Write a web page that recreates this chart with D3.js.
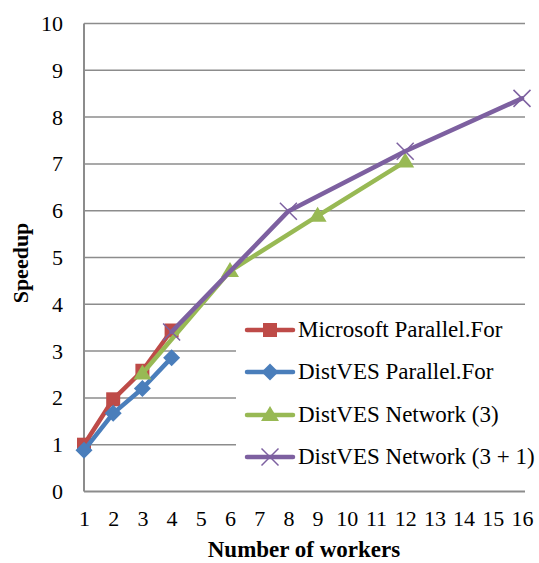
<!DOCTYPE html>
<html lang="en">
<head>
<meta charset="utf-8">
<title>Speedup chart</title>
<script src="https://cdn.jsdelivr.net/npm/d3@7"></script>
<style>
  body { margin: 0; background: #fff; }
  text { font-family: "Liberation Serif", "Times New Roman", serif; }
</style>
</head>
<body>
<script>
// Data
var xTicks = d3.range(1, 17);
var yTicks = d3.range(0, 11);

var msWorkers = [1, 2, 3, 4];
var msSpeedup = [1.0, 1.97, 2.58, 3.44];

var dvWorkers = [1, 2, 3, 4];
var dvSpeedup = [0.88, 1.67, 2.2, 2.86];

var net3Workers = [3, 6, 9, 12];
var net3Speedup = [2.52, 4.71, 5.89, 7.05];

var net31Workers = [4, 8, 12, 16];
var net31Speedup = [3.41, 5.99, 7.27, 8.4];

var seriesNames = ["Microsoft Parallel.For", "DistVES Parallel.For", "DistVES Network (3)", "DistVES Network (3 + 1)"];
var seriesColors = ["#BE4B48", "#4A7EBB", "#98B954", "#7D60A0"];
var seriesMarkers = ["square", "diamond", "triangle", "cross"];

var series = [
  { workers: msWorkers, speedup: msSpeedup },
  { workers: dvWorkers, speedup: dvSpeedup },
  { workers: net3Workers, speedup: net3Speedup },
  { workers: net31Workers, speedup: net31Speedup }
].map(function(s, i) {
  return {
    name: seriesNames[i],
    color: seriesColors[i],
    marker: seriesMarkers[i],
    points: s.workers.map(function(w, j) { return { x: w, y: s.speedup[j] }; })
  };
});

var w = 539, h = 563;
var plotLeft = 84, plotRight = 522, plotTop = 23.5, plotBottom = 491.5;

var xScale = d3.scaleLinear().domain([1, 16]).range([plotLeft, plotRight]);
var yScale = d3.scaleLinear().domain([0, 10]).range([plotBottom, plotTop]);

var svg = d3.select("body").append("svg")
  .attr("width", w)
  .attr("height", h);

// Gridlines
svg.append("g")
  .selectAll("line")
  .data(yTicks.slice(1))
  .enter()
  .append("line")
  .attr("x1", plotLeft)
  .attr("x2", plotRight + 3)
  .attr("y1", function(d) { return yScale(d); })
  .attr("y2", function(d) { return yScale(d); })
  .attr("stroke", "#8c8c8c")
  .attr("stroke-width", 1.5);

// Axes
var yAxis = d3.axisLeft(yScale).tickValues(yTicks).tickSize(0).tickPadding(21);
var xAxis = d3.axisBottom(xScale).tickValues(xTicks).tickSize(0).tickPadding(19);

var gy = svg.append("g").attr("transform", "translate(" + plotLeft + ",0)").call(yAxis);
var gx = svg.append("g").attr("transform", "translate(0," + plotBottom + ")").call(xAxis);

[gx, gy].forEach(function(g) {
  g.select(".domain").attr("stroke", "#8c8c8c").attr("stroke-width", 2);
  g.selectAll("text")
    .attr("font-family", "Liberation Serif, serif")
    .attr("font-size", "22px")
    .attr("fill", "#000");
});
gy.select(".domain").attr("d", "M0," + plotBottom + "V" + plotTop);
gx.select(".domain").attr("d", "M" + plotLeft + ",0H" + (plotRight + 3));

// Axis titles
svg.append("text")
  .attr("x", 304)
  .attr("y", 557)
  .attr("text-anchor", "middle")
  .attr("font-size", "23px")
  .attr("font-weight", "bold")
  .text("Number of workers");

svg.append("text")
  .attr("transform", "translate(28,263) rotate(-90)")
  .attr("text-anchor", "middle")
  .attr("font-size", "22px")
  .attr("font-weight", "bold")
  .text("Speedup");

// Marker drawing
function drawMarker(g, type, color, cx, cy) {
  if (type === "square") {
    g.append("rect")
      .attr("x", cx - 7).attr("y", cy - 7)
      .attr("width", 14).attr("height", 14)
      .attr("fill", color);
  } else if (type === "diamond") {
    g.append("path")
      .attr("d", "M" + cx + "," + (cy - 8.5) + "L" + (cx + 8.5) + "," + cy + "L" + cx + "," + (cy + 8.5) + "L" + (cx - 8.5) + "," + cy + "Z")
      .attr("fill", color);
  } else if (type === "triangle") {
    g.append("path")
      .attr("d", "M" + cx + "," + (cy - 9) + "L" + (cx + 9) + "," + (cy + 6) + "L" + (cx - 9) + "," + (cy + 6) + "Z")
      .attr("fill", color);
  } else {
    g.append("path")
      .attr("d", "M" + (cx - 8.5) + "," + (cy - 8.5) + "L" + (cx + 8.5) + "," + (cy + 8.5) + "M" + (cx + 8.5) + "," + (cy - 8.5) + "L" + (cx - 8.5) + "," + (cy + 8.5))
      .attr("stroke", color)
      .attr("stroke-width", 1.5)
      .attr("fill", "none");
  }
}

var line = d3.line()
  .x(function(d) { return xScale(d.x); })
  .y(function(d) { return yScale(d.y); });

// Lines and markers
series.forEach(function(s) {
  var g = svg.append("g");
  g.append("path")
    .attr("d", line(s.points))
    .attr("fill", "none")
    .attr("stroke", s.color)
    .attr("stroke-width", 4.5)
    .attr("stroke-linejoin", "round")
    .attr("stroke-linecap", "round");
  s.points.forEach(function(p) {
    drawMarker(g, s.marker, s.color, xScale(p.x), yScale(p.y));
  });
});

// Legend
var legend = svg.append("g");
legend.append("rect")
  .attr("x", 236)
  .attr("y", 307)
  .attr("width", 303)
  .attr("height", 182)
  .attr("fill", "#fff");

var rowY = [330, 372, 415, 457];
series.forEach(function(s, i) {
  var y = rowY[i];
  legend.append("line")
    .attr("x1", 247).attr("x2", 293)
    .attr("y1", y).attr("y2", y)
    .attr("stroke", s.color)
    .attr("stroke-width", 4.5)
    .attr("stroke-linecap", "round");
  drawMarker(legend, s.marker, s.color, 270, y);
  legend.append("text")
    .attr("x", 298)
    .attr("y", y + 7)
    .attr("font-size", "23px")
    .attr("fill", "#000")
    .text(s.name);
});
</script>
</body>
</html>
